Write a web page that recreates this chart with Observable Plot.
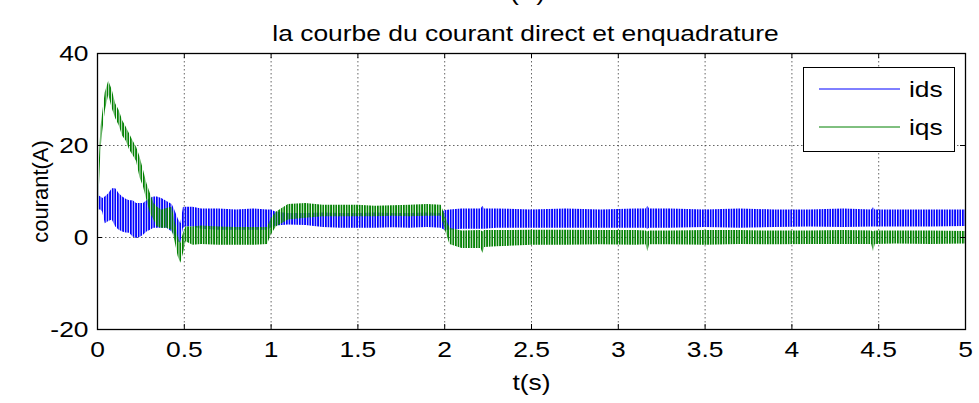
<!DOCTYPE html>
<html>
<head>
<meta charset="utf-8">
<script src="https://cdn.jsdelivr.net/npm/d3@7"></script>
<script src="https://cdn.jsdelivr.net/npm/@observablehq/plot@0.6"></script>
<style>
  html, body { margin: 0; padding: 0; background: #fff; }
  #chart { width: 979px; height: 403px; overflow: hidden; }
</style>
</head>
<body>
<div id="chart"></div>
<script>
// ---- data (envelopes of the oscillating signals) ----
const time = [0, 0.005, 0.01, 0.02, 0.03, 0.045, 0.065, 0.085, 0.105, 0.125,
  0.145, 0.165, 0.185, 0.205, 0.225, 0.245, 0.265, 0.285, 0.305, 0.325,
  0.345, 0.37, 0.4, 0.43, 0.445, 0.465, 0.48, 0.495, 0.51, 0.55,
  0.6, 0.7, 0.8, 0.9, 0.98, 1.0, 1.03, 1.1, 1.2, 1.3,
  1.4, 1.5, 1.6, 1.7, 1.8, 1.9, 1.98, 2.0, 2.03, 2.1,
  2.21, 2.22, 2.23, 2.3, 2.5, 2.7, 2.9, 3.1, 3.16, 3.17,
  3.18, 3.3, 3.5, 3.7, 3.9, 4.1, 4.3, 4.46, 4.47, 4.48,
  4.6, 4.8, 5.0];

const idsLo = [0, 6, 6, 6, 5.5, 3, 3.5, 3.8, 2.3, 1.6,
  1.2, 1, 0.9, 0.1, -0.2, 0, 0.5, 1.2, 1.6, 2,
  2, 2, 2, 1.2, 0.5, -1, -1.2, 2, 2.3, 2.3,
  1.8, 1.6, 1.6, 1.6, 1.6, 2, 2.5, 2.7, 2.6, 2.2,
  2, 2, 2, 2.1, 2, 2.2, 2, 1.6, 1.6, 1.8,
  1.8, 1.8, 1.8, 2, 2, 2, 2, 2, 2, 1.8,
  2, 2, 2.2, 2, 2.2, 2.3, 2.2, 2.3, 2.3, 2.3,
  2.3, 2.3, 2.4];
const idsHi = [33, 14, 9, 8.8, 8.5, 8.8, 9.5, 10.6, 10.6, 9.5,
  8.8, 8.3, 8, 8, 7.4, 7.4, 7.4, 8, 8.5, 8.8,
  8.8, 8.5, 7.8, 7.2, 6, 4, 3, 6.5, 6.6, 6.6,
  6.2, 6.2, 6, 6.2, 6, 6, 5.5, 5.2, 5.2, 5.3,
  5.2, 5.2, 5.3, 5.2, 5.2, 5.3, 5.2, 5.8, 6, 6.2,
  6.2, 6.8, 6.2, 6.2, 6, 6.2, 6, 6.2, 6.2, 6.8,
  6.2, 6.2, 6, 6.2, 6, 6, 6.2, 6, 6.5, 6,
  6, 6, 6];

const iqsLo = [0, 5, 10, 19, 23, 27.5, 31, 28, 25.8, 24.3,
  22, 21, 19, 17.8, 16.5, 13, 11, 8, 5.2, 3.8,
  2.3, 2, 2, 1.6, -0.6, -4.2, -5.6, -3.5, -0.9, -1.7,
  -1.5, -1.7, -1.7, -1.7, -1.5, 0.5, 2.3, 3.8, 4.2, 4.5,
  4.5, 4.5, 4.5, 4.6, 4.5, 4.6, 4.6, 2, -1.5, -2.4,
  -2.4, -3.5, -2.2, -2, -1.7, -1.7, -1.6, -1.7, -1.6, -3.1,
  -1.6, -1.6, -1.7, -1.5, -1.6, -1.5, -1.5, -1.5, -3.1, -1.5,
  -1.4, -1.5, -1.4];
const iqsHi = [0, 10, 16, 24, 27, 31.5, 34, 32, 29, 27.6,
  25.4, 24, 22.5, 21, 19.6, 17.5, 14.6, 11.7, 9.5, 7.4,
  6.6, 6, 6.3, 6.6, 3.8, 0.1, -1.3, 0.9, 2.3, 2.3,
  2.5, 2.3, 2.2, 2.2, 2.2, 4, 5.5, 7.2, 7.4, 7,
  7, 7, 6.8, 6.9, 7, 7.2, 7, 5, 2, 1.4,
  1.5, 1.2, 1.5, 1.5, 1.6, 1.6, 1.5, 1.5, 1.4, 1.2,
  1.4, 1.4, 1.5, 1.5, 1.4, 1.4, 1.5, 1.4, 1.2, 1.4,
  1.4, 1.4, 1.3];

const seriesNames = ["ids", "iqs"];
const seriesColors = ["#0000ff", "#008000"];
const xTicks = [0, 0.5, 1, 1.5, 2, 2.5, 3, 3.5, 4, 4.5, 5];
const yTicks = [-20, 0, 20, 40];
const titleText = "la courbe du courant direct et enquadrature";
const topText = "(A)";
const xLabel = "t(s)";
const yLabel = "courant(A)";

// ---- build tables ----
const idsRows = time.map((t, i) => ({t, lo: idsLo[i], hi: idsHi[i]}));
const iqsRows = time.map((t, i) => ({t, lo: iqsLo[i], hi: iqsHi[i]}));

const W = 979, H = 403;
const mL = 97, mR = 14, mT = 53, mB = 74;
const plotW = W - mL - mR, plotH = H - mT - mB;
const tick = 5;
const FONT = "'Liberation Sans', Arial, Helvetica, sans-serif";
const FS = 22;
const STRETCH = 1.2; // the reference's text is horizontally stretched

const chart = Plot.plot({
  width: W,
  height: H,
  marginLeft: mL,
  marginRight: mR,
  marginTop: mT,
  marginBottom: mB,
  style: {fontFamily: FONT, fontSize: FS + "px", background: "#fff", overflow: "visible"},
  x: {domain: [0, 5]},
  y: {domain: [-20, 40]},
  marks: [
    Plot.gridX(xTicks, {stroke: "#333", strokeOpacity: 0.75, strokeDasharray: "1.5,2.5", strokeWidth: 1}),
    Plot.gridY(yTicks, {stroke: "#333", strokeOpacity: 0.75, strokeDasharray: "1.5,2.5", strokeWidth: 1}),
    Plot.areaY(idsRows, {x: "t", y1: "lo", y2: "hi", fill: "url(#stripeIds)", curve: "linear"}),
    Plot.areaY(iqsRows, {x: "t", y1: "lo", y2: "hi", fill: "url(#stripeIqs)", curve: "linear"}),
    // inward ticks (MATLAB style) on all four sides
    Plot.tickX(xTicks, {x: d => d, insetTop: plotH - tick, stroke: "black", strokeWidth: 1}),
    Plot.tickX(xTicks, {x: d => d, insetBottom: plotH - tick, stroke: "black", strokeWidth: 1}),
    Plot.tickY(yTicks, {y: d => d, insetRight: plotW - tick, stroke: "black", strokeWidth: 1}),
    Plot.tickY(yTicks, {y: d => d, insetLeft: plotW - tick, stroke: "black", strokeWidth: 1}),
    Plot.frame({stroke: "black", strokeWidth: 1.3}),
    Plot.axisX(xTicks, {anchor: "bottom", tickSize: 0, tickPadding: 12, label: null, fontSize: FS, tickFormat: d => String(d)}),
    Plot.axisY(yTicks, {anchor: "left", tickSize: 0, tickPadding: 9, label: null, fontSize: FS, tickFormat: d => String(d)}),
    Plot.text([xLabel], {text: d => d, frameAnchor: "bottom", dy: 53, lineAnchor: "middle", textAnchor: "middle", fontSize: FS}),
    Plot.text([yLabel], {text: d => d, frameAnchor: "left", dx: -57, rotate: -90, lineAnchor: "middle", textAnchor: "middle", fontSize: FS}),
    Plot.text([titleText], {text: d => d, frameAnchor: "top", dx: -6, dy: -13, lineAnchor: "bottom", textAnchor: "middle", fontSize: FS}),
    Plot.text([topText], {text: d => d, frameAnchor: "top", dx: -4, dy: -54, lineAnchor: "bottom", textAnchor: "middle", fontSize: FS})
  ]
});

const svgEl = chart.tagName.toLowerCase() === "svg" ? chart : chart.querySelector("svg");
const svg = d3.select(svgEl);

// stripe patterns to mimic the dense oscillation
const defs = svg.insert("defs", ":first-child");
[["stripeIds", seriesColors[0]], ["stripeIqs", seriesColors[1]]].forEach(([id, c]) => {
  const p = defs.append("pattern").attr("id", id).attr("patternUnits", "userSpaceOnUse")
    .attr("width", 2.6).attr("height", 10);
  p.append("rect").attr("x", 0).attr("y", 0).attr("width", 1.7).attr("height", 10).attr("fill", c);
});

// legend box
const lg = svg.append("g").attr("font-family", FONT).attr("font-size", FS).attr("text-anchor", "start");
lg.append("rect").attr("x", 803.5).attr("y", 67.5).attr("width", 151).attr("height", 84)
  .attr("fill", "white").attr("stroke", "black").attr("stroke-width", 1);
seriesNames.forEach((name, i) => {
  const y = 89 + i * 38;
  lg.append("line").attr("x1", 819).attr("x2", 900).attr("y1", y).attr("y2", y)
    .attr("stroke", seriesColors[i]).attr("stroke-width", 1);
  lg.append("text").attr("x", 909).attr("y", y).attr("dy", "0.35em").attr("fill", "black").text(name);
});

document.getElementById("chart").appendChild(chart);

// widen horizontal text to match the stretched look of the reference
svgEl.querySelectorAll("text").forEach(el => {
  const tr = el.getAttribute("transform") || "";
  if (tr.includes("rotate")) return;
  const L = el.getComputedTextLength();
  if (L > 0) {
    el.setAttribute("textLength", (L * STRETCH).toFixed(2));
    el.setAttribute("lengthAdjust", "spacingAndGlyphs");
  }
});
</script>
</body>
</html>
